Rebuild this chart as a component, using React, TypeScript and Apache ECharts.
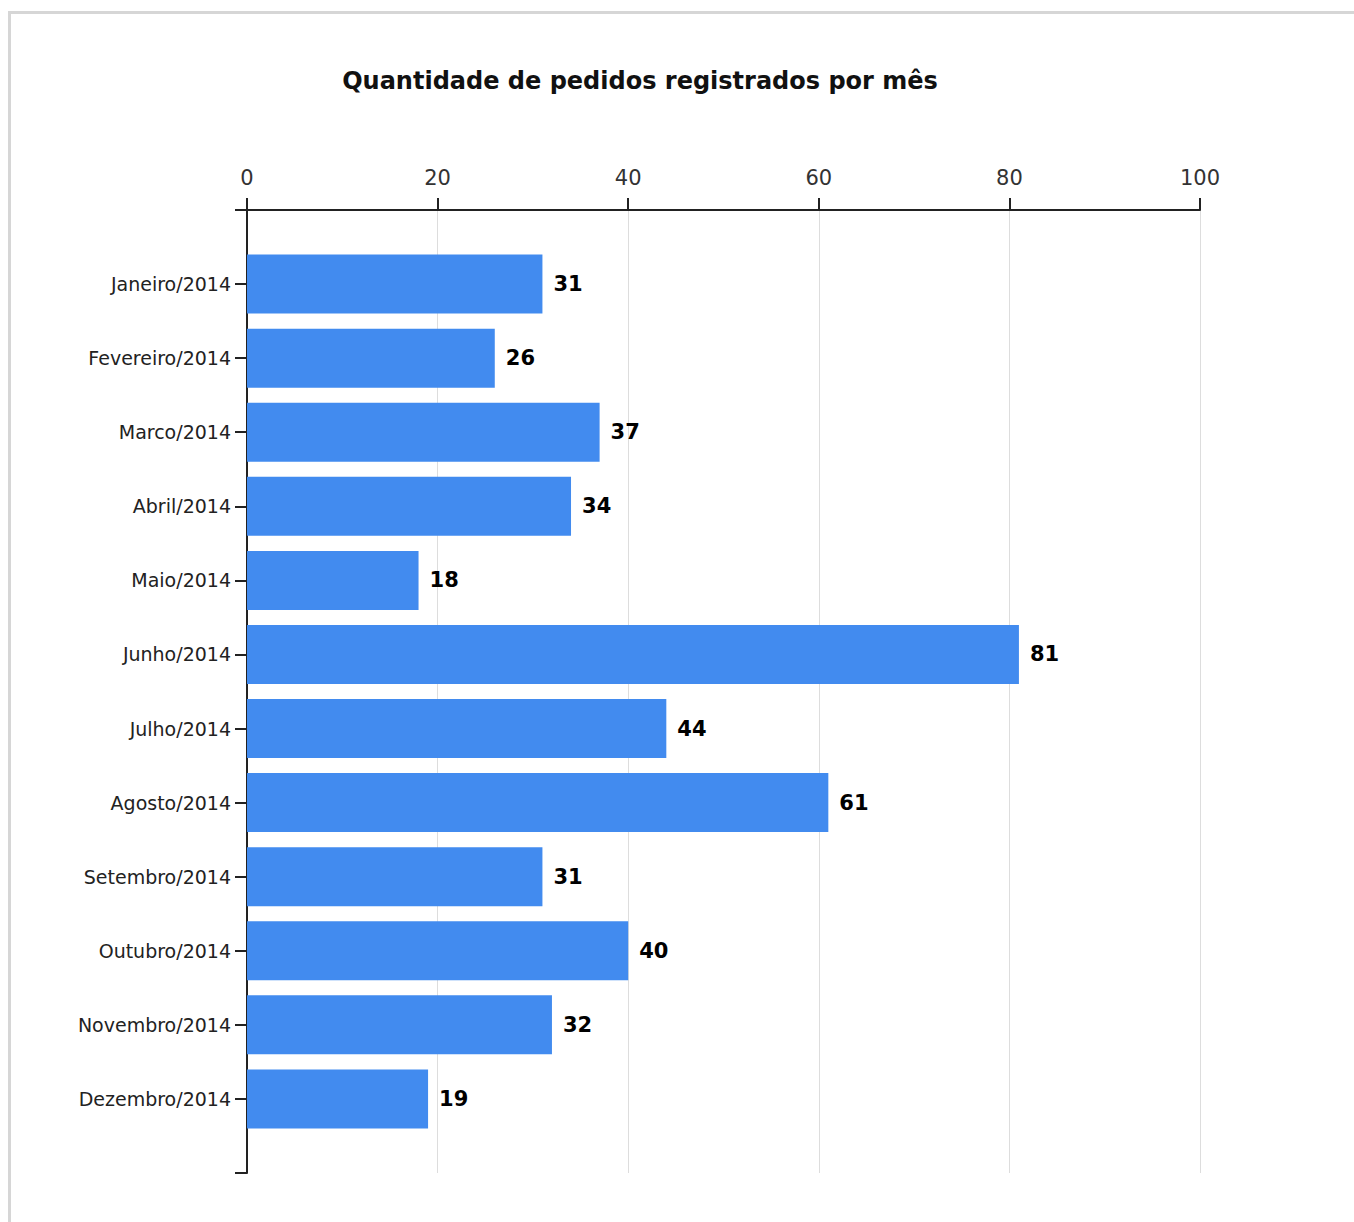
import React, { useEffect, useRef } from "react";
import * as echarts from "echarts";

const TITLE = "Quantidade de pedidos registrados por mês";
const MONTHS = [
  "Janeiro/2014",
  "Fevereiro/2014",
  "Marco/2014",
  "Abril/2014",
  "Maio/2014",
  "Junho/2014",
  "Julho/2014",
  "Agosto/2014",
  "Setembro/2014",
  "Outubro/2014",
  "Novembro/2014",
  "Dezembro/2014",
];
const PEDIDOS = [31, 26, 37, 34, 18, 81, 44, 61, 31, 40, 32, 19];
const X_MIN = 0;
const X_MAX = 100;
const X_STEP = 20;

export default function App() {
  const ref = useRef<HTMLDivElement>(null);
  useEffect(() => {
    if (!ref.current) return;
    const chart = echarts.init(ref.current, null, { renderer: "svg" });
    const cats = ["", ...MONTHS, ""];
    const vals: any[] = ["-", ...PEDIDOS, "-"];
    chart.setOption({
      animation: false,
      backgroundColor: "#ffffff",
      graphic: [
        {
          type: "rect",
          shape: { x: 9.5, y: 12.5, width: 2000, height: 2000 },
          style: { fill: "none", stroke: "#d6d6d6", lineWidth: 3 },
          silent: true,
        },
      ],
      title: {
        text: TITLE,
        left: 635,
        top: 64,
        textAlign: "center",
        textStyle: {
          fontFamily: "DejaVu Sans",
          fontWeight: "bold",
          fontSize: 24,
          color: "#111",
        },
      },
      grid: { left: 247, right: 1354 - 1200, top: 210, bottom: 1222 - 1173, containLabel: false },
      xAxis: {
        type: "value",
        position: "top",
        min: X_MIN,
        max: X_MAX,
        interval: X_STEP,
        axisLine: { show: true, lineStyle: { color: "#222", width: 2 } },
        axisTick: { show: true, length: 12, lineStyle: { color: "#222", width: 2 } },
        axisLabel: {
          margin: 22,
          fontFamily: "DejaVu Sans",
          fontSize: 21,
          color: "#333",
        },
        splitLine: { show: true, lineStyle: { color: "#dddddd", width: 1 } },
      },
      yAxis: {
        type: "category",
        inverse: true,
        boundaryGap: false,
        data: cats,
        axisLine: { show: true, lineStyle: { color: "#222", width: 2 } },
        axisTick: { show: true, length: 12, lineStyle: { color: "#222", width: 2 } },
        axisLabel: {
          margin: 16,
          interval: 0,
          fontFamily: "DejaVu Sans",
          fontSize: 19,
          color: "#222",
        },
        splitLine: { show: false },
      },
      series: [
        {
          type: "bar",
          data: vals,
          barWidth: 59,
          itemStyle: { color: "#428bef" },
          label: {
            show: true,
            position: "right",
            distance: 11,
            fontFamily: "DejaVu Sans",
            fontWeight: "bold",
            fontSize: 21,
            color: "#000",
          },
        },
      ],
    });
    return () => chart.dispose();
  }, []);
  return (
    <div
      ref={ref}
      style={{ position: "fixed", left: 0, top: 0, width: 1354, height: 1222 }}
    />
  );
}
